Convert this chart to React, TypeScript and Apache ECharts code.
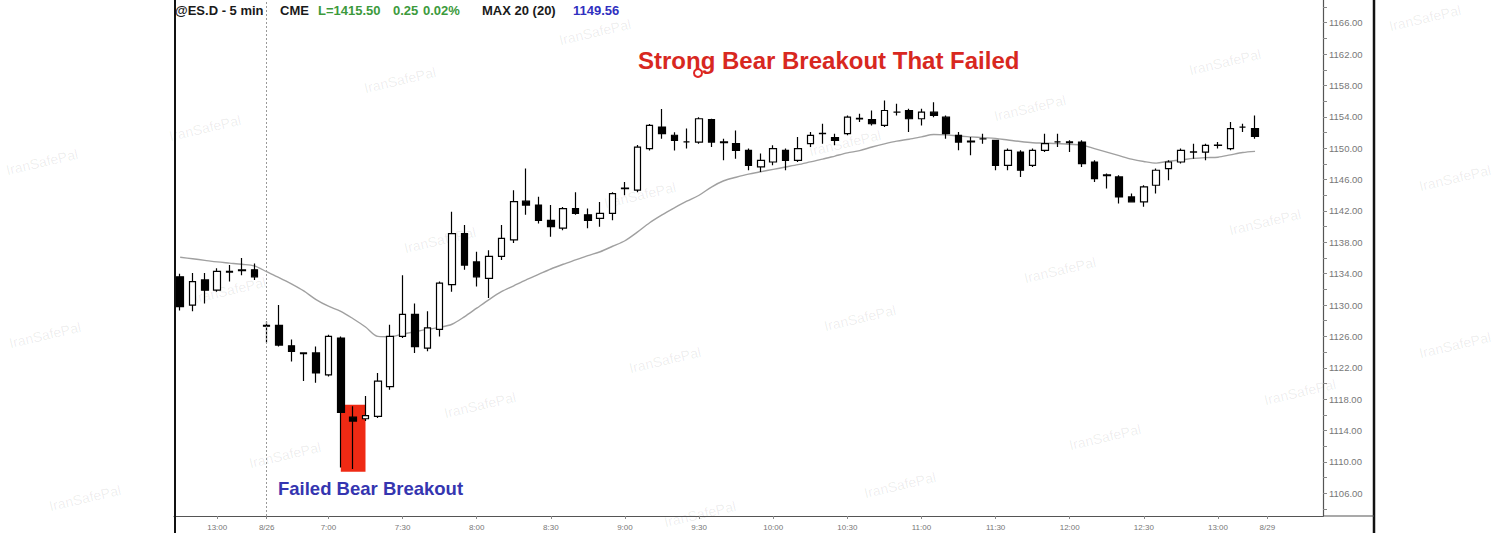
import React, { useEffect, useRef } from "react";
import * as echarts from "echarts";

const categories = [
  "12:45", "12:50", "12:55", "13:00", "13:05", "13:10", "13:15",
  "8/26", "6:40", "6:45", "6:50", "6:55",
  "7:00", "7:05", "7:10", "7:15", "7:20", "7:25", "7:30", "7:35", "7:40", "7:45", "7:50", "7:55",
  "8:00", "8:05", "8:10", "8:15", "8:20", "8:25", "8:30", "8:35", "8:40", "8:45", "8:50", "8:55",
  "9:00", "9:05", "9:10", "9:15", "9:20", "9:25", "9:30", "9:35", "9:40", "9:45", "9:50", "9:55",
  "10:00", "10:05", "10:10", "10:15", "10:20", "10:25", "10:30", "10:35", "10:40", "10:45", "10:50", "10:55",
  "11:00", "11:05", "11:10", "11:15", "11:20", "11:25", "11:30", "11:35", "11:40", "11:45", "11:50", "11:55",
  "12:00", "12:05", "12:10", "12:15", "12:20", "12:25", "12:30", "12:35", "12:40", "12:45", "12:50", "12:55",
  "13:00", "13:05", "13:10", "13:15",
  "8/29", "n6:40", "n6:45", "n6:50", "n6:55",
];

const tickLabels = [
  "13:00", "8/26", "7:00", "7:30", "8:00", "8:30", "9:00", "9:30", "10:00",
  "10:30", "11:00", "11:30", "12:00", "12:30", "8/29",
];

const opens = [
  1133.6, 1130.0, 1133.2, 1131.9, 1134.3, 1134.4, 1134.5, 1127.4, 1127.4, 1124.8,
  1123.9, 1123.9, 1121.1, 1125.8, 1115.7, 1115.5, 1115.8, 1119.6, 1126.0, 1128.8,
  1124.5, 1126.9, 1132.6, 1139.1, 1135.5, 1133.4, 1136.2, 1138.3, 1143.25, 1142.75,
  1140.8, 1139.8, 1142.3, 1141.5, 1141.05, 1141.7, 1144.85, 1144.65, 1149.95, 1152.7,
  1151.65, 1150.8, 1150.78, 1153.64, 1150.8, 1150.58, 1149.73, 1147.61, 1148.24, 1149.73,
  1148.46, 1150.58, 1151.85, 1151.34, 1151.85, 1153.75, 1153.64, 1152.91, 1154.6, 1154.81,
  1153.76, 1154.6, 1153.96, 1151.64, 1150.9, 1151.2, 1151.0, 1147.82, 1149.51, 1147.82,
  1149.73, 1150.8, 1150.8, 1150.78, 1148.24, 1146.6, 1146.34, 1143.79, 1143.16, 1145.28,
  1147.4, 1148.24, 1149.5, 1149.51, 1150.35, 1149.95, 1152.7, 1152.49,
];
const closes = [
  1129.8, 1133.0, 1131.9, 1134.3, 1134.2, 1134.5, 1133.6, 1127.3, 1124.9, 1124.1,
  1123.8, 1121.35, 1126.0, 1116.3, 1115.2, 1115.9, 1120.3, 1126.0, 1128.8, 1124.7,
  1127.1, 1132.8, 1139.1, 1135.1, 1133.6, 1136.2, 1138.5, 1143.2, 1142.75, 1140.8,
  1140.0, 1142.3, 1141.7, 1140.8, 1141.7, 1144.2, 1144.9, 1150.15, 1152.9, 1151.85,
  1151.0, 1150.8, 1153.76, 1150.78, 1150.7, 1149.73, 1147.82, 1148.46, 1149.95, 1148.46,
  1149.95, 1151.64, 1151.9, 1151.0, 1153.96, 1153.8, 1153.12, 1154.81, 1154.6, 1153.76,
  1154.6, 1154.18, 1151.85, 1150.78, 1150.8, 1151.2, 1147.82, 1149.73, 1147.19, 1149.73,
  1150.58, 1150.8, 1150.7, 1148.04, 1146.13, 1146.5, 1143.79, 1143.16, 1145.06, 1147.19,
  1148.24, 1149.73, 1149.55, 1150.37, 1150.4, 1152.49, 1152.7, 1151.5,
];
const lows = [
  1129.3, 1129.2, 1130.2, 1131.7, 1133.0, 1133.8, 1133.2, 1125.2, 1124.7, 1122.8,
  1120.3, 1120.1, 1120.9, 1109.3, 1109.1, 1115.2, 1115.6, 1119.2, 1125.8, 1123.9,
  1124.1, 1126.0, 1131.7, 1134.5, 1132.35, 1130.9, 1135.75, 1137.9, 1141.5, 1140.4,
  1138.7, 1139.55, 1141.5, 1139.8, 1140.0, 1140.8, 1144.0, 1144.4, 1149.7, 1151.2,
  1149.7, 1149.95, 1150.58, 1150.15, 1148.46, 1148.67, 1147.19, 1146.97, 1147.82, 1147.19,
  1148.24, 1150.15, 1150.58, 1150.37, 1151.64, 1153.33, 1152.91, 1152.69, 1154.18, 1152.06,
  1152.91, 1153.96, 1151.22, 1149.73, 1149.1, 1150.58, 1147.19, 1147.19, 1146.34, 1147.61,
  1149.51, 1150.15, 1149.51, 1147.61, 1145.7, 1144.86, 1142.95, 1143.16, 1142.52, 1144.22,
  1145.92, 1148.04, 1148.67, 1148.46, 1149.95, 1149.73, 1152.06, 1151.22,
];
const highs = [
  1134.0, 1134.1, 1134.1, 1134.7, 1135.1, 1136.0, 1135.3, 1127.9, 1130.0, 1125.6,
  1123.9, 1124.7, 1126.2, 1126.0, 1117.1, 1118.4, 1121.35, 1127.5, 1133.8, 1130.2,
  1129.2, 1133.0, 1141.9, 1140.2, 1136.8, 1137.0, 1140.2, 1144.65, 1147.4, 1143.8,
  1142.75, 1142.5, 1144.4, 1142.3, 1143.15, 1144.4, 1145.7, 1150.4, 1153.1, 1155.0,
  1152.05, 1152.5, 1153.96, 1153.76, 1151.22, 1152.27, 1149.95, 1149.31, 1150.37, 1149.95,
  1151.42, 1152.06, 1153.12, 1151.85, 1154.18, 1154.39, 1154.81, 1156.09, 1155.67, 1155.03,
  1155.03, 1155.87, 1154.18, 1152.06, 1151.42, 1151.85, 1151.09, 1149.95, 1149.73, 1149.95,
  1151.85, 1151.85, 1151.0, 1151.0, 1148.46, 1146.77, 1146.55, 1144.22, 1145.28, 1147.4,
  1148.46, 1149.95, 1150.58, 1150.58, 1150.78, 1153.33, 1153.12, 1154.18,
];

const ma20 = [
  1136.1, 1135.9, 1135.7, 1135.5, 1135.35, 1135.2, 1135.0, 1134.25, 1133.5, 1132.7,
  1131.8, 1130.7, 1129.85, 1129.2, 1128.25, 1127.2, 1126.0, 1125.95, 1126.3, 1126.6,
  1126.9, 1127.15, 1127.55, 1128.5, 1129.6, 1130.7, 1131.7, 1132.45, 1133.2, 1133.9,
  1134.6, 1135.2, 1135.75, 1136.3, 1136.8, 1137.5, 1138.2, 1139.3, 1140.5, 1141.5,
  1142.4, 1143.25, 1144.0, 1145.05, 1145.85, 1146.3, 1146.7, 1147.0, 1147.3, 1147.6,
  1147.9, 1148.25, 1148.6, 1149.0, 1149.4, 1149.7, 1150.15, 1150.55, 1150.9, 1151.15,
  1151.45, 1151.75, 1151.7, 1151.55, 1151.45, 1151.35, 1151.25, 1151.05, 1150.85, 1150.7,
  1150.65, 1150.6, 1150.5, 1150.4, 1149.95, 1149.5, 1149.05, 1148.6, 1148.3, 1148.1,
  1148.35, 1148.5, 1148.7, 1148.8, 1148.85, 1149.15, 1149.45, 1149.6,
];

const yLabelValues = [1106, 1110, 1114, 1118, 1122, 1126, 1130, 1134, 1138, 1142, 1146, 1150, 1154, 1158, 1162, 1166];
const yTickValues = [
  1104, 1106, 1108, 1110, 1112, 1114, 1116, 1118, 1120, 1122, 1124, 1126, 1128, 1130, 1132, 1134,
  1136, 1138, 1140, 1142, 1144, 1146, 1148, 1150, 1152, 1154, 1156, 1158, 1160, 1162, 1164, 1166, 1168,
];
const lastPrice = 1151.5;
const dayStartIndex = 7;
const failedBox = { fromIndex: 13, toIndex: 15, low: 1108.75, high: 1117.3 };

const headerParts = [
  { text: "@ES.D - 5 min", color: "#1a1a1a", x: 175 },
  { text: "CME", color: "#1a1a1a", x: 280 },
  { text: "L=1415.50", color: "#3c9a3c", x: 318 },
  { text: "0.25", color: "#3c9a3c", x: 393 },
  { text: "0.02%", color: "#3c9a3c", x: 423 },
  { text: "MAX 20 (20)", color: "#1a1a1a", x: 482 },
  { text: "1149.56", color: "#3030c0", x: 573 },
];

const watermarkSpots = [
  [42, 162], [205, 128], [400, 80], [595, 32],
  [45, 335], [230, 290], [440, 240], [640, 195], [845, 143], [1030, 108], [1225, 62], [1425, 18],
  [85, 498], [285, 455], [480, 405], [665, 360], [860, 318], [1060, 270], [1265, 222], [1455, 178],
  [700, 514], [900, 485], [1105, 437], [1300, 392], [1455, 345],
];

const FONT = "'Liberation Sans', Arial, Helvetica, sans-serif";

export default function App() {
  const ref = useRef<HTMLDivElement>(null);

  useEffect(() => {
    if (!ref.current) return;
    const chart = echarts.init(ref.current, null, { renderer: "svg" });
    const candleData = opens.map((o, i) => [o, closes[i], lows[i], highs[i]]);
    const showTick = (_i: number, v: string) => tickLabels.includes(v);

    const graphics: any[] = [];
    watermarkSpots.forEach(([x, y]) => {
      graphics.push({
        type: "text",
        x,
        y,
        rotation: 0.23,
        silent: true,
        z: 0,
        style: {
          text: "IranSafePal",
          fill: "rgba(0,0,0,0.075)",
          font: `14px ${FONT}`,
          align: "center",
          verticalAlign: "middle",
        },
      });
    });
    headerParts.forEach((p) => {
      graphics.push({
        type: "text",
        x: p.x,
        y: 10,
        z: 50,
        style: {
          text: p.text,
          fill: p.color,
          font: `bold 13px ${FONT}`,
          align: "left",
          verticalAlign: "middle",
        },
      });
    });
    graphics.push(
      {
        type: "text",
        x: 638,
        y: 60,
        z: 50,
        style: {
          text: "Strong Bear Breakout That Failed",
          fill: "#d8281f",
          font: `bold 24px ${FONT}`,
          align: "left",
          verticalAlign: "middle",
        },
      },
      {
        type: "circle",
        z: 51,
        shape: { cx: 698, cy: 73, r: 4 },
        style: { fill: "transparent", stroke: "#e02424", lineWidth: 2 },
      },
      {
        type: "text",
        x: 278,
        y: 488,
        z: 50,
        style: {
          text: "Failed Bear Breakout",
          fill: "#3535b0",
          font: `bold 18.5px ${FONT}`,
          align: "left",
          verticalAlign: "middle",
        },
      },
      {
        type: "line",
        z: 60,
        shape: { x1: 175, y1: 0, x2: 175, y2: 533 },
        style: { stroke: "#111", lineWidth: 2 },
      },
      {
        type: "line",
        z: 60,
        shape: { x1: 1374, y1: 0, x2: 1374, y2: 533 },
        style: { stroke: "#111", lineWidth: 2.5 },
      },
      {
        type: "line",
        z: 60,
        shape: { x1: 1323, y1: 516, x2: 1374, y2: 516 },
        style: { stroke: "#555", lineWidth: 1.2 },
      }
    );

    chart.setOption({
      animation: false,
      backgroundColor: "#ffffff",
      grid: { left: 174, right: 177, top: 0, bottom: 17, show: false },
      xAxis: {
        type: "category",
        data: categories,
        boundaryGap: true,
        axisLine: { show: true, lineStyle: { color: "#555", width: 1.2 } },
        axisTick: {
          show: true,
          interval: showTick,
          alignWithLabel: true,
          length: 3,
          lineStyle: { color: "#888" },
        },
        axisLabel: {
          interval: showTick,
          fontSize: 8,
          color: "#777",
          margin: 7,
          fontFamily: FONT,
        },
        splitLine: { show: false },
      },
      yAxis: {
        type: "value",
        position: "right",
        min: 1103.1,
        max: 1168.9,
        axisLine: { show: true, lineStyle: { color: "#555", width: 1.2 } },
        axisTick: {
          show: true,
          customValues: yTickValues,
          length: 4,
          lineStyle: { color: "#888" },
        },
        axisLabel: {
          customValues: yLabelValues,
          formatter: (v: number) => v.toFixed(2),
          fontSize: 9.5,
          color: "#777",
          margin: 6,
          fontFamily: FONT,
        },
        splitLine: { show: false },
      },
      series: [
        {
          type: "line",
          name: "MAX 20",
          data: ma20,
          symbol: "none",
          smooth: 0.3,
          z: 1,
          lineStyle: { color: "#a0a0a0", width: 1.4 },
          markLine: {
            silent: true,
            symbol: ["none", "none"],
            data: [{ yAxis: lastPrice }],
            lineStyle: { opacity: 0 },
            label: {
              show: true,
              position: "end",
              distance: 0,
              formatter: lastPrice.toFixed(2),
              backgroundColor: "#000",
              color: "#fff",
              fontSize: 9.5,
              fontFamily: FONT,
              padding: [2, 5, 2, 5],
            },
          },
        },
        {
          type: "candlestick",
          name: "ES",
          data: candleData,
          barWidth: 7,
          z: 3,
          itemStyle: {
            color: "#ffffff",
            color0: "#000000",
            borderColor: "#000000",
            borderColor0: "#000000",
            borderColorDoji: "#000000",
            borderWidth: 1.2,
          },
          markArea: {
            silent: true,
            itemStyle: { color: "#ef2a14" },
            data: [
              [
                { xAxis: failedBox.fromIndex, yAxis: failedBox.low },
                { xAxis: failedBox.toIndex, yAxis: failedBox.high },
              ],
            ],
          },
          markLine: {
            silent: true,
            symbol: ["none", "none"],
            label: { show: false },
            lineStyle: { color: "#999", type: [2, 2], width: 1 },
            data: [{ xAxis: dayStartIndex }],
          },
        },
      ],
      graphic: graphics,
    });

    return () => chart.dispose();
  }, []);

  return (
    <div
      ref={ref}
      style={{ position: "absolute", left: 0, top: 0, width: 1500, height: 533, background: "#fff" }}
    />
  );
}
